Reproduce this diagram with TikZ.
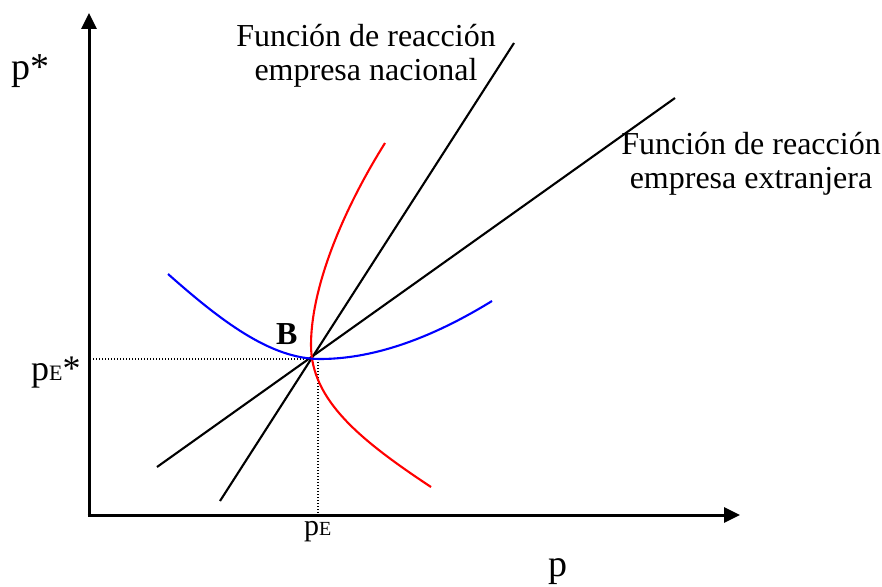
\documentclass[tikz,border=0pt]{standalone}
\usepackage{fontspec}
\setmainfont{Liberation Serif}
\usetikzlibrary{arrows.meta}
\begin{document}
\begin{tikzpicture}[x=1pt,y=-1pt,
  axis/.style={line width=3pt,-{Triangle[length=16pt,width=15pt]}},
  rline/.style={line width=2.1pt},
  curveline/.style={line width=2.1pt},
  guide/.style={line width=1.5pt,dash pattern=on 1.4pt off 1.6pt},
  lbl/.style={inner sep=0pt,anchor=base,font=\fontsize{32}{33}\selectfont},
  axlbl/.style={inner sep=0pt,anchor=base west}]
\useasboundingbox (0,0) rectangle (882,586);
% axes
\coordinate (O) at (89,515);
\coordinate (Ox) at (87.5,515);
\coordinate (ytip) at (89,13);
\coordinate (xtip) at (740,515);
\draw[axis] (O) -- (ytip);
\draw[axis] (Ox) -- (xtip);
% guides
\coordinate (hstart) at (90,359);
\coordinate (hend) at (312,359);
\coordinate (vtop) at (318,359);
\coordinate (vbot) at (318,515);
\draw[guide] (hstart) -- (hend);
\draw[guide] (vtop) -- (vbot);
% reaction functions
\coordinate (nA) at (220,501);
\coordinate (nB) at (514,43);
\coordinate (fA) at (157,467);
\coordinate (fB) at (675,98);
\draw[rline] (nA) -- (nB);
\draw[rline] (fA) -- (fB);
% curves
\draw[curveline,red] (385,143) .. controls (340,215) and (311,290) .. (311,345)
  .. controls (311,400) and (360,440) .. (431,487);
\draw[curveline,blue] (168,274) .. controls (220,320) and (270,359) .. (320,359)
  .. controls (380,359) and (440,333) .. (492,301);
% labels
\node[lbl] (n1) at (366,47) {Función de reacción};
\node[lbl] (n2) at (366,80) {empresa nacional};
\node[lbl] (f1) at (751,154) {Función de reacción};
\node[lbl] (f2) at (751,188) {empresa extranjera};
\node[axlbl,font=\fontsize{38}{40}\selectfont] (py) at (11,79) {p*};
\node[axlbl,font=\fontsize{38}{40}\selectfont] (px) at (548,576) {p};
\node[axlbl] (pes) at (31,380) {\fontsize{36}{38}\selectfont p\fontsize{22}{24}\selectfont E\fontsize{36}{38}\selectfont*};
\node[axlbl] (pe) at (304,535) {\fontsize{30}{32}\selectfont p\fontsize{20}{22}\selectfont E};
\node[axlbl,font=\fontsize{32}{34}\selectfont\bfseries] (B) at (276,344) {B};
\end{tikzpicture}
\end{document}
